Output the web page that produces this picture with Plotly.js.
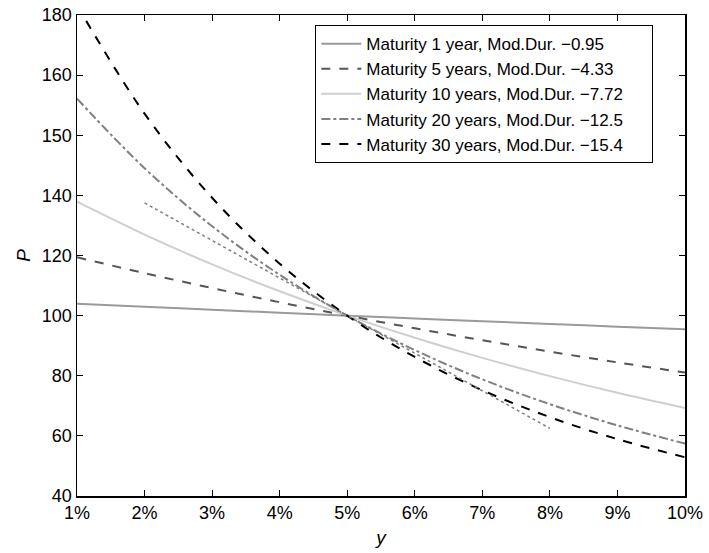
<!DOCTYPE html>
<html><head><meta charset="utf-8">
<script src="https://cdn.plot.ly/plotly-3.0.1.min.js"></script>
<style>body{margin:0;background:#fff}#c{width:709px;height:553px}</style>
</head><body><div id="c"></div>
<script>
const yields = [0.01,0.02,0.03,0.04,0.05,0.06,0.07,0.08,0.09,0.10];
const p1  = [103.96,102.94,101.94,100.96,100,99.06,98.13,97.22,96.33,95.45];
const p5  = [119.41,114.14,109.16,104.45,100,95.79,91.80,88.02,84.44,81.05];
const p10 = [137.89,126.95,117.06,108.11,100,92.64,85.95,79.87,74.33,69.28];
const p20 = [172.18,149.05,129.75,113.59,100,88.53,78.81,70.55,63.49,57.43];
const p30 = [203.23,167.19,139.20,117.29,100,86.24,75.18,66.23,58.91,52.87];
const tangentX = [0.02,0.08];
const tangentY = [137.5,62.5];
const names = ["Maturity 1 year, Mod.Dur. \u22120.95","Maturity 5 years, Mod.Dur. \u22124.33","Maturity 10 years, Mod.Dur. \u22127.72","Maturity 20 years, Mod.Dur. \u221212.5","Maturity 30 years, Mod.Dur. \u221215.4\u00a0\u00a0\u00a0\u00a0\u00a0"];
const xTicks = [0.01,0.02,0.03,0.04,0.05,0.06,0.07,0.08,0.09,0.10];
const xTickText = ["1%","2%","3%","4%","5%","6%","7%","8%","9%","10%"];
const yTicks = [40,60,80,100,120,140,160,180,200];
const yTickText = ["40","60","80","100","120","140","150","160","180"];

const series = [p1,p5,p10,p20,p30];
const styles = [
  {color:'#9a9a9a',dash:'solid',width:2},
  {color:'#555555',dash:'dash',width:2},
  {color:'#cfcfcf',dash:'solid',width:2},
  {color:'#808080',dash:'dashdot',width:2},
  {color:'#000000',dash:'dash',width:2}
];
const traces = series.map((s,i)=>({x:yields,y:s,type:'scatter',mode:'lines',name:names[i],
  line:Object.assign({shape:'spline',smoothing:1},styles[i])}));
traces.push({x:tangentX,y:tangentY,type:'scatter',mode:'lines',showlegend:false,
  line:{color:'#808080',dash:'dot',width:1.5}});

const axisCommon = {showgrid:false,zeroline:false,showline:true,linecolor:'#000',linewidth:1.5,
  mirror:'ticks',ticks:'inside',ticklen:6,tickcolor:'#000',
  tickfont:{family:'Liberation Sans, Arial, sans-serif',size:18,color:'#000'}};
const layout = {
  width:709,height:553,margin:{l:77,r:24,t:15,b:57},
  paper_bgcolor:'#fff',plot_bgcolor:'#fff',
  font:{family:'Liberation Sans, Arial, sans-serif',color:'#000'},
  xaxis:Object.assign({},axisCommon,{range:[0.01,0.10],tickvals:xTicks,ticktext:xTickText,
    title:{text:'<i>y</i>',font:{size:19},standoff:8}}),
  yaxis:Object.assign({},axisCommon,{range:[40,200],tickvals:yTicks,ticktext:yTickText,
    title:{text:'<i>P</i>',font:{size:19},standoff:6}}),
  legend:{x:0.392,y:0.979,xanchor:'left',yanchor:'top',bgcolor:'#fff',bordercolor:'#000',borderwidth:1,
    font:{size:17},tracegroupgap:0,itemwidth:40},
  showlegend:true
};
Plotly.newPlot('c',traces,layout,{displayModeBar:false,staticPlot:true});
</script></body></html>
